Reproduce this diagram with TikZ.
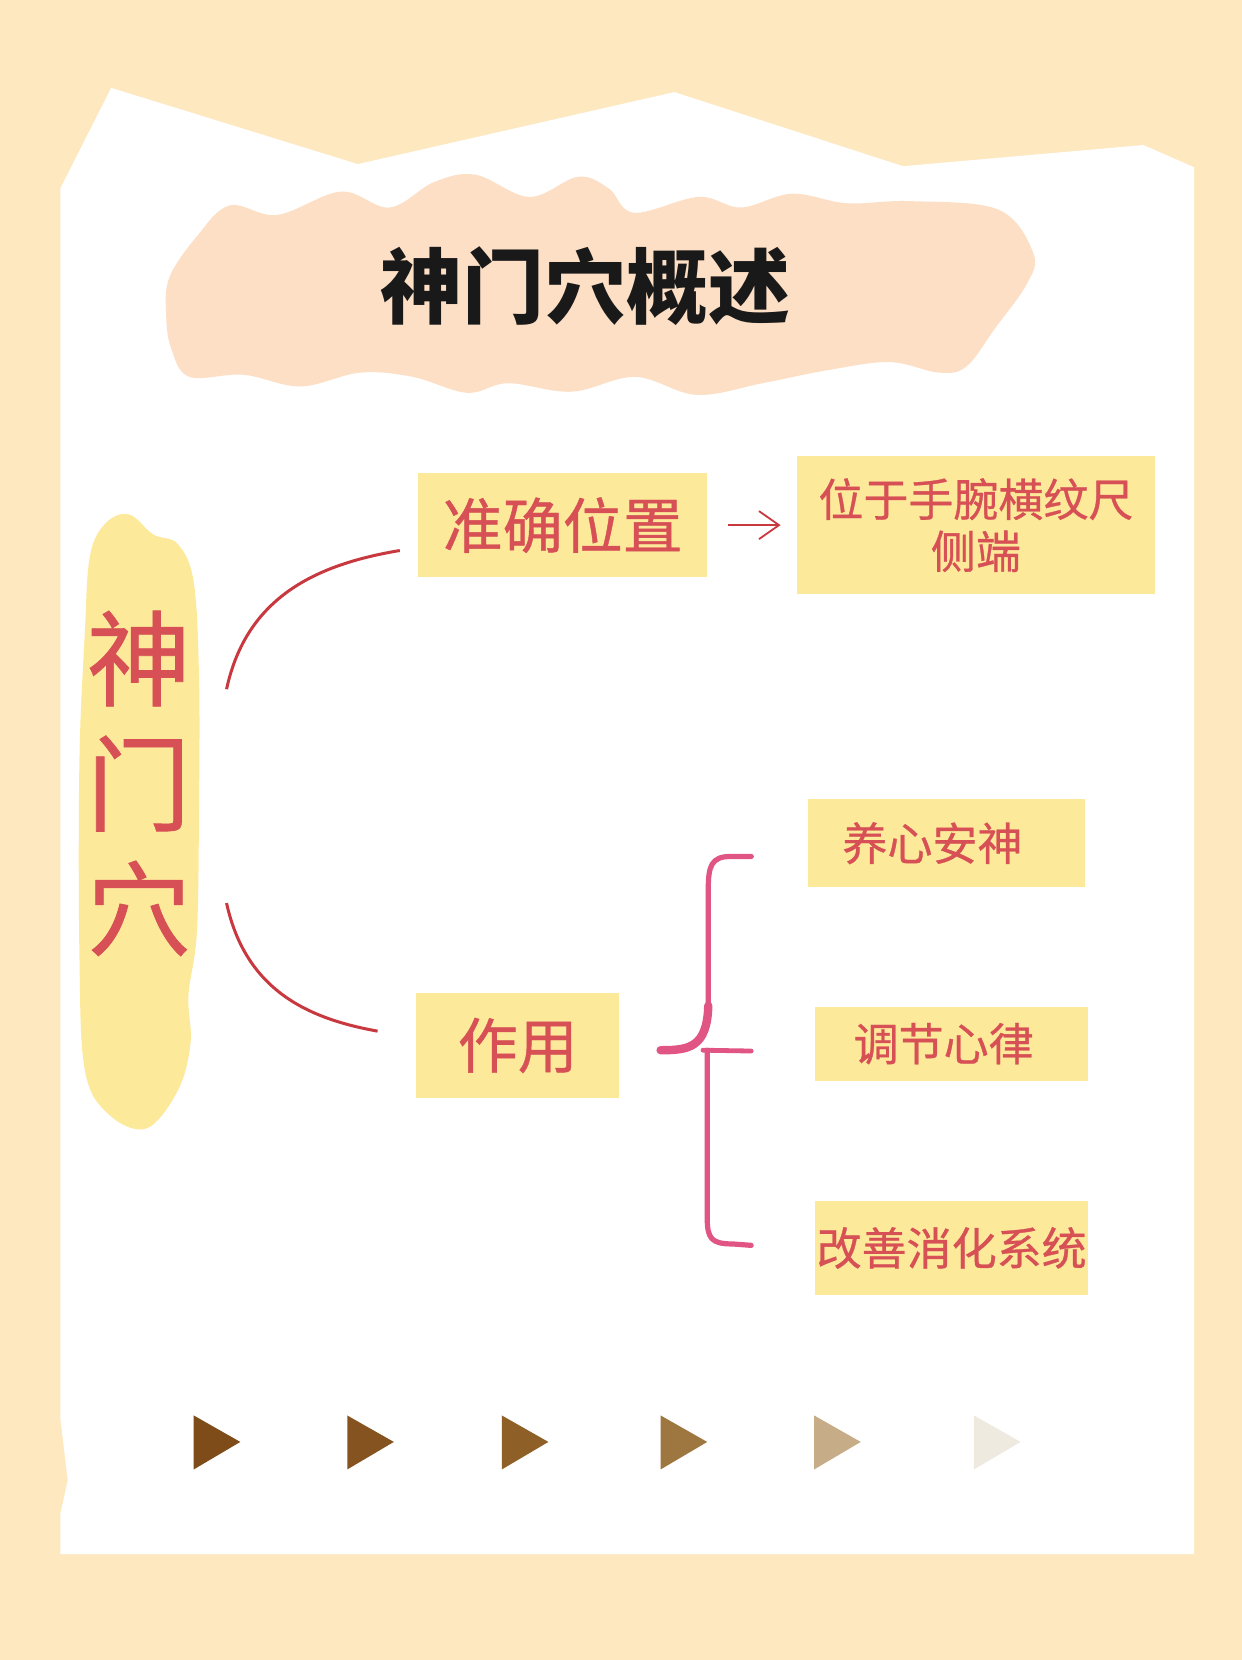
\documentclass[tikz,border=0pt]{standalone}
\usepackage{fontspec}
\newfontfamily\cjk{Noto Sans CJK SC}
\newfontfamily\cjkm[FakeBold=0.7]{Noto Sans CJK SC}
\usetikzlibrary{positioning,arrows.meta}

\definecolor{cream}{HTML}{FDE8C0}
\definecolor{peach}{HTML}{FDDFC6}
\definecolor{hlyellow}{HTML}{FDE99A}
\definecolor{txtred}{HTML}{D65055}
\definecolor{linered}{HTML}{C8393F}
\definecolor{bracepink}{HTML}{E05583}

\tikzset{
  hl/.style={fill=hlyellow, text=txtred, inner sep=0pt, align=center, font=\cjkm\fontsize{22.5pt}{26pt}\selectfont},
  topic/.style={hl, font=\cjkm\fontsize{30pt}{36pt}\selectfont},
  link/.style={linered, line width=1.5pt},
  brace/.style={bracepink, line width=2.6pt, line cap=round},
}

\begin{document}
\begin{tikzpicture}[x=0.5294pt, y=-0.5294pt]
				\useasboundingbox[fill=cream] (0,0) rectangle (1173,1568);
				
				% paper
				\fill[white] (57,178) -- (105,83) -- (338,155) -- (637,87) -- (853,157) -- (1080,137) -- (1128,158)
				  -- (1128,1468) -- (57,1468) -- (57,1430) -- (64,1398) -- (57,1340) -- cycle;
				
				% title blob
				\fill[peach] plot[smooth cycle, tension=0.6] coordinates {
				  (160,262) (187,222) (217,194) (262,203) (322,181) (368,196) (410,172) (449,165)
				  (500,186) (546,167) (575,178) (599,201) (660,186) (700,196) (748,183) (800,192)
				  (860,190) (943,198) (976,239) (970,268) (940,310) (913,346) (887,352) (840,342)
				  (780,350) (720,362) (658,373) (600,356) (540,370) (480,362) (441,371) (390,356)
				  (340,352) (284,365) (230,354) (179,356) (162,330) (157,299)};
				\node[font=\cjk\bfseries\fontsize{41pt}{41pt}\selectfont, text=black!90] (title) at (553,270) {神门穴概述};
				
				% left blob
				\fill[hlyellow] plot[smooth cycle, tension=0.6] coordinates {
				  (85,525) (100,494) (122,486) (145,505) (168,514) (183,550) (188,640) (188,760)
				  (186,880) (178,940) (180,985) (168,1030) (138,1066) (102,1052) (80,1010)
				  (75,900) (75,720) (80,600)};
				\node[align=center, text=txtred, font=\cjkm\fontsize{52pt}{62.5pt}\selectfont,
				  minimum width=61pt, minimum height=307pt] (shen) at (131,740) {神\\门\\穴};
				
				\node[topic, minimum width=144.5pt, minimum height=52pt] (pos) at (531.5,496) {准确位置};
				\node[hl, minimum width=179pt, minimum height=69.4pt, right=44.5pt of pos] (loc) {位于手腕横纹尺\\侧端};
				\node[topic, minimum width=101.6pt, minimum height=52.4pt] (use) at (489,987.5) {作用};
				
				\node[hl, minimum width=138.7pt, minimum height=44pt] (e1) at (894,796.5) {养心安神\hspace{14pt}};
				\node[hl, minimum width=136.6pt, minimum height=37pt, below=59.3pt of e1, xshift=2.6pt] (e2) {调节心律\hspace{8pt}};
				\node[hl, minimum width=136.6pt, minimum height=47pt, below=59.8pt of e2] (e3) {改善消化系统};
				
				\draw[link] ([shift={(25,-89)}]shen.east) .. controls (233,563) and (300,533) .. ([shift={(-17,24)}]pos.west);
				\draw[link] ([shift={(25,113)}]shen.east) .. controls (232,935) and (290,962) .. ([shift={(-36,-13.5)}]use.west);
				\draw[link, line width=0.9pt, -{Straight Barb[length=10pt, width=14pt]}, shorten <=10pt, shorten >=8pt] (pos.east) -- (loc.west);
				
				% brace
				\draw[brace] ([shift={(-53,12.5)}]e1.west) -- (690,809) .. controls (672,809) and (669,818) .. (669,840) -- (669,955);
				\draw[brace, line width=4.2pt] (669,950) .. controls (668,990) and (650,992) .. (624,992);
				\draw[brace, line width=2.4pt] (664,992) -- ([shift={(-60,7)}]e2.west);
				\draw[brace] (668,992) -- (668,1150) .. controls (668,1170) and (672,1175) .. (692,1175) -- ([shift={(-60,-2.5)}]e3.west);
				
				% arrows
				\foreach \x/\c in {183/7E4C18, 328/85531F, 474/8E5F27, 624/9E7640, 769/C6AD87, 920/EEEAE0}{
				  \definecolor{tri}{HTML}{\c}
				  \fill[tri] (\x,1337) -- (\x+44,1362) -- (\x,1388) -- cycle;
				}
			\end{tikzpicture}
\end{document}
